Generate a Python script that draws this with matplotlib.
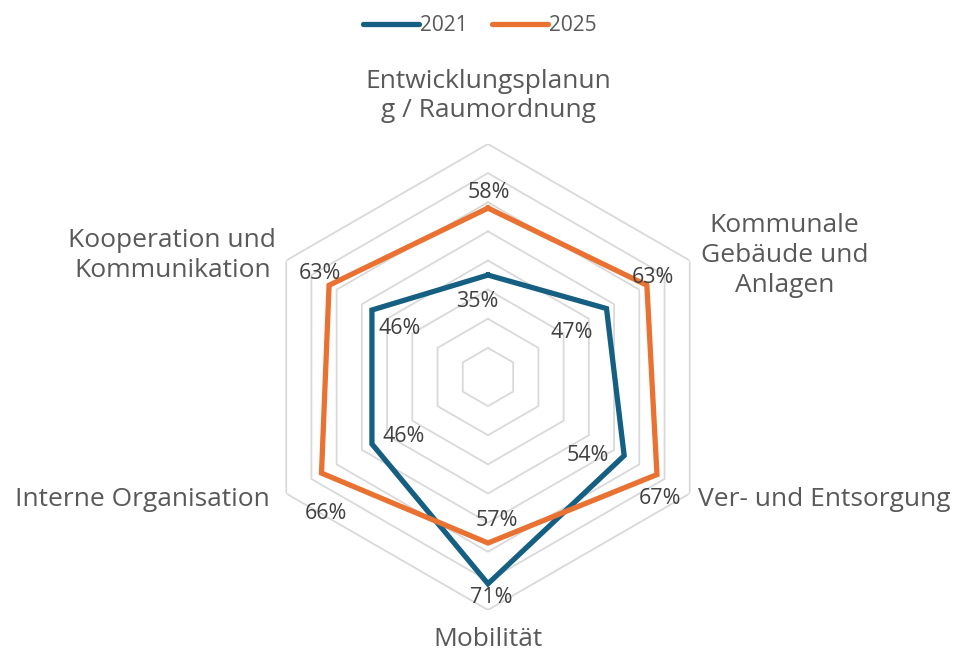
import numpy as np
import matplotlib
matplotlib.use('Agg')
import matplotlib.pyplot as plt

# Daten
categories = ['Entwicklungsplanun\ng / Raumordnung', 'Kommunale\nGebäude und\nAnlagen',
              'Ver- und Entsorgung', 'Mobilität', 'Interne Organisation',
              'Kooperation und\nKommunikation']
val_2021 = [0.35, 0.47, 0.54, 0.71, 0.46, 0.46]
val_2025 = [0.58, 0.63, 0.67, 0.57, 0.66, 0.63]
series_names = ['2021', '2025']
ring_levels = [0.1, 0.2, 0.3, 0.4, 0.5, 0.6, 0.7, 0.8]

c_2021 = '#156082'
c_2025 = '#E97132'
c_text = '#595959'
c_label = '#404040'
c_grid = '#D9D9D9'

plt.rcParams['font.family'] = ['Open Sans', 'DejaVu Sans']

n = len(categories)
theta = np.arange(n) * 2 * np.pi / n
theta_c = np.append(theta, theta[0])

fig = plt.figure(figsize=(9.6, 6.51), dpi=100)
ax = fig.add_axes([0.2656, 0.063, 0.4854, 0.7158], projection='polar')
ax.set_theta_offset(np.pi / 2)
ax.set_theta_direction(-1)
ax.set_ylim(0, 0.8)
ax.grid(False)
ax.spines['polar'].set_visible(False)
ax.set_xticks([])
ax.set_yticks([])
ax.patch.set_alpha(0)

# sechseckige Gitterlinien
for lv in ring_levels:
    ax.plot(theta_c, [lv] * (n + 1), color=c_grid, lw=1.3, zorder=1)

ax.plot(theta_c, val_2021 + val_2021[:1], color=c_2021, lw=3.8, label=series_names[0],
        solid_joinstyle='miter', zorder=3)
ax.plot(theta_c, val_2025 + val_2025[:1], color=c_2025, lw=3.8, label=series_names[1],
        solid_joinstyle='miter', zorder=3)

# Datenbeschriftungen (Versatz in Pixeln)
off_2021 = [(-11, -26), (-35, -24), (-36, 0), (3, -14), (32, 7), (28, -18)]
off_2025 = [(1, 16), (6, 8), (3, -24), (9, 23), (4, -40), (-9, 12)]
for vals, offs in [(val_2021, off_2021), (val_2025, off_2025)]:
    for t, v, o in zip(theta, vals, offs):
        ax.annotate(f'{v:.0%}', xy=(t, v), xytext=o, textcoords='offset pixels',
                    ha='center', va='center', fontsize=15.5, color=c_label, zorder=4)

# Kategorien
cat_off = [(0, 48), (95, 5), (8, -6), (0, -30), (-16, -6), (-114, 5)]
cat_ha = ['center', 'center', 'left', 'center', 'right', 'center']
for t, lab, o, h in zip(theta, categories, cat_off, cat_ha):
    ax.annotate(lab, xy=(t, 0.8), xytext=o, textcoords='offset pixels',
                ha=h, va='center', multialignment='center', fontsize=19,
                color=c_text, linespacing=1.25, annotation_clip=False)

leg = fig.legend(loc='upper center', bbox_to_anchor=(0.5, 1.005), ncol=2, frameon=False,
                 fontsize=15, handlelength=2.7, columnspacing=1.15, handletextpad=0.05,
                 labelcolor=c_text)
for h in leg.get_lines():
    h.set_solid_capstyle('round')

fig.savefig('out.png', dpi=100)
